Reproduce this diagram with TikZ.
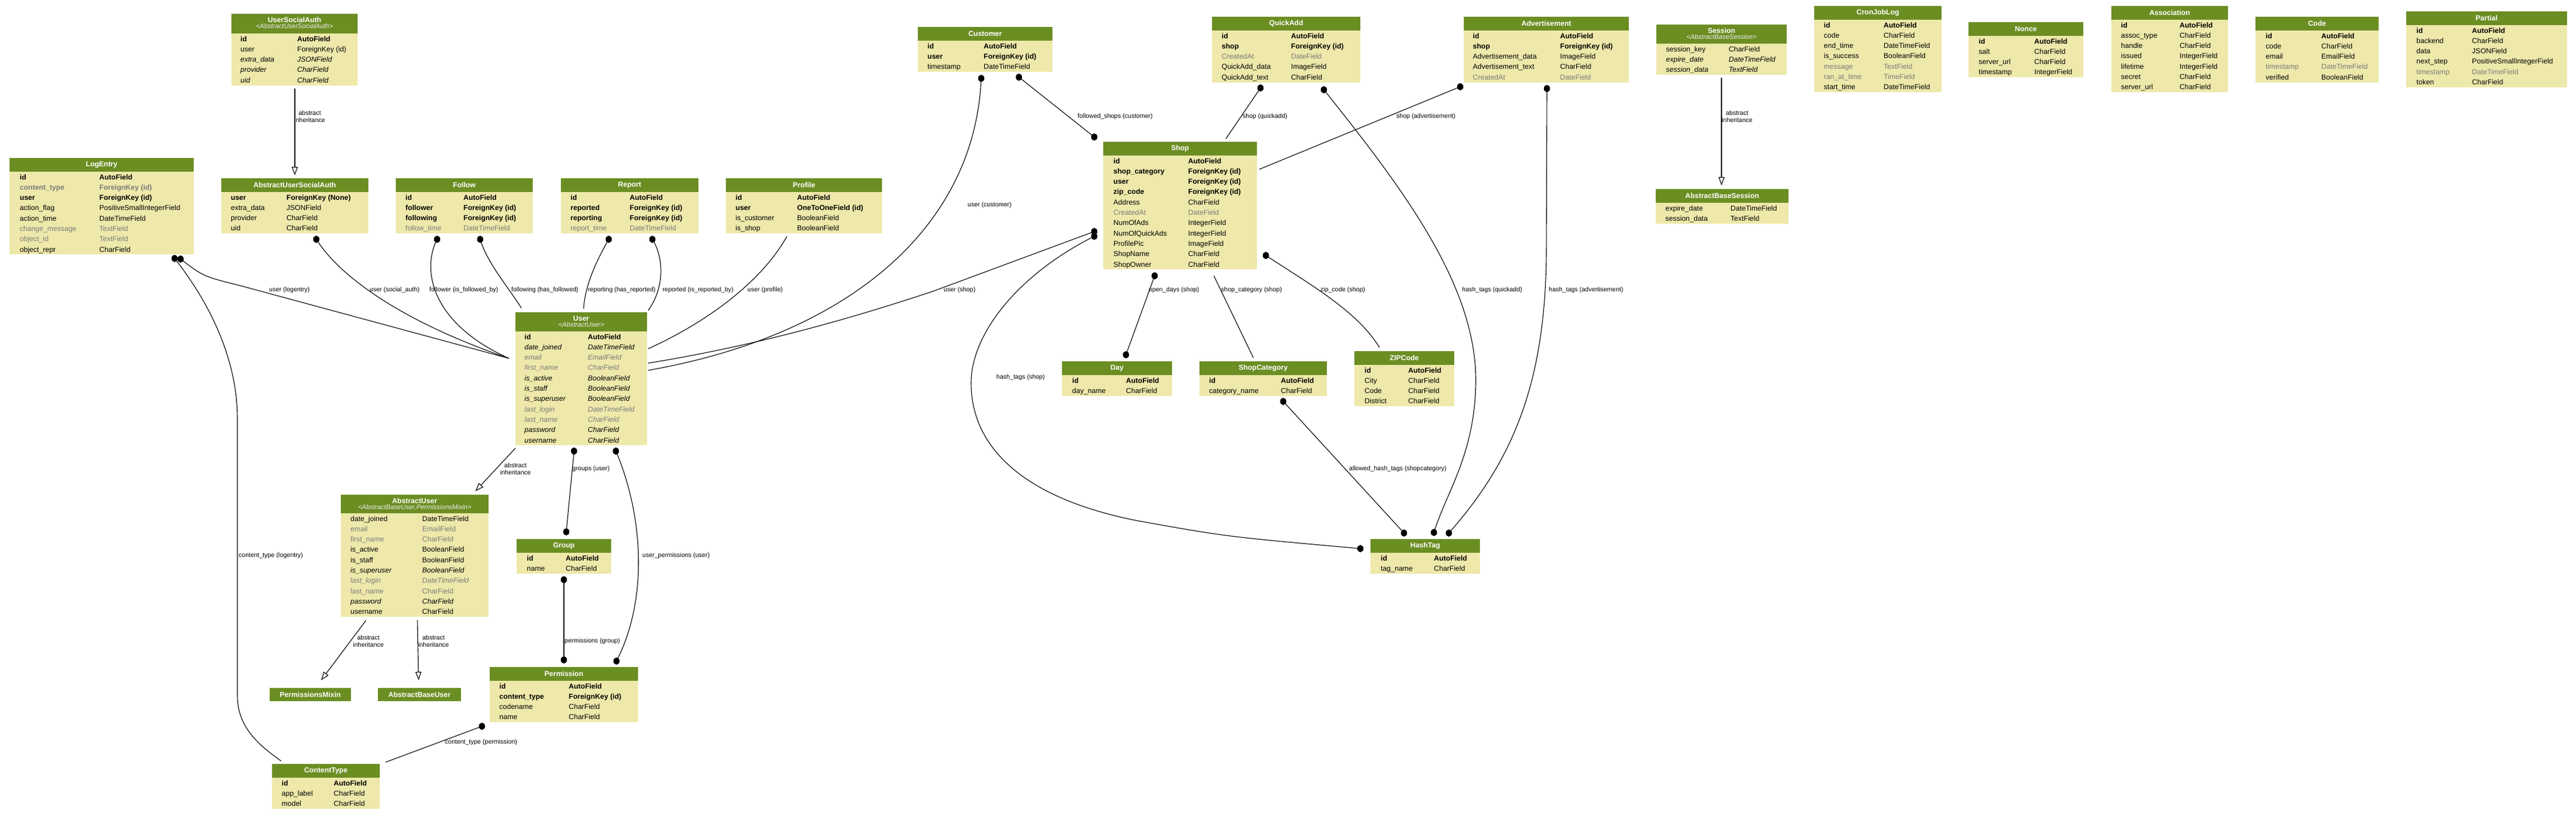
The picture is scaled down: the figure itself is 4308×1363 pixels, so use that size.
\documentclass[tikz,border=0pt]{standalone}
\usepackage{fontspec}
\setmainfont{Liberation Sans}
\usetikzlibrary{arrows.meta,calc}
\definecolor{hdr}{HTML}{6B8E23}
\definecolor{bdy}{HTML}{EEE8AA}
\definecolor{gtx}{HTML}{7B7B7B}
\newcommand\dbtable[8]{%
  \pgfmathsetmacro\tbh{#5+#6*17.3}%
  \node[tbody,minimum width=#4pt,minimum height=\tbh pt,anchor=north west] (#1) at (#2,#3) {};%
  \node[thead,minimum width=#4pt,minimum height=#5pt,anchor=north west] (#1-h) at (#2,#3) {};%
  \if\relax\detokenize{#8}\relax
    \node[ttitle] (#1-t) at (#1-h.center) {#7};%
  \else
    \node[ttitle] (#1-t) at ($(#1-h.north)+(0,10)$) {#7};%
    \node[tsub] (#1-s) at ($(#1-h.north)+(0,21)$) {<#8>};%
  \fi
}
\newcommand\dbrows[4]{%
  \foreach \st/\fn/\ft [count=\ri] in {#4}{%
    \node[rowtxt,\st] at ($(#1-h.south west)+(#2,\ri*17.3-4.3)$) {\fn};%
    \node[rowtxt,\st] at ($(#1-h.south west)+(#3,\ri*17.3-4.3)$) {\ft};%
  }%
}
\newcommand\edot[1]{\fill (#1) ellipse [x radius=5.2pt, y radius=6pt];}
\tikzset{
  tbody/.style={fill=bdy,draw=none,inner sep=0,outer sep=0},
  thead/.style={fill=hdr,draw=none,inner sep=0,outer sep=0},
  ttitle/.style={text=white,font=\fontsize{12}{12}\selectfont\bfseries,inner sep=0},
  tsub/.style={text=white!88!gray,font=\fontsize{11}{11}\selectfont\itshape,inner sep=0},
  rowtxt/.style={anchor=base west,inner sep=0,font=\fontsize{12}{12}\selectfont},
  rn/.style={},
  rb/.style={font=\fontsize{12}{12}\selectfont\bfseries},
  ri/.style={font=\fontsize{12}{12}\selectfont\itshape},
  rg/.style={text=gtx},
  rgi/.style={text=gtx,font=\fontsize{12}{12}\selectfont\itshape},
  rgb/.style={text=gtx,font=\fontsize{12}{12}\selectfont\bfseries},
  conn/.style={draw=black,line width=1.1pt},
  inh/.style={conn,-{Triangle[open,length=14pt,width=10pt]}},
  lbl/.style={font=\fontsize{10.5}{12}\selectfont,inner sep=0,anchor=west},
  ilbl/.style={font=\fontsize{10.5}{12}\selectfont,inner sep=0,align=center}
}
\begin{document}
\begin{tikzpicture}[x=1pt,y=-1pt]
\fill[white] (0,0) rectangle (4308,1363);
\useasboundingbox (0,0) rectangle (4308,1363);

% ---------- tables ----------
\dbtable{UserSocialAuth}{387}{23}{211}{33}{5}{UserSocialAuth}{AbstractUserSocialAuth}
\dbrows{UserSocialAuth}{15}{110}{rb/id/AutoField, rn/user/ForeignKey (id), ri/extra\_data/JSONField, ri/provider/CharField, ri/uid/CharField}

\dbtable{LogEntry}{16}{264}{308}{23}{8}{LogEntry}{}
\dbrows{LogEntry}{17}{150}{rb/id/AutoField, rgb/content\_type/ForeignKey (id), rb/user/ForeignKey (id), rn/action\_flag/PositiveSmallIntegerField, rn/action\_time/DateTimeField, rg/change\_message/TextField, rg/object\_id/TextField, rn/object\_repr/CharField}

\dbtable{AbstractUserSocialAuth}{370}{298}{246}{23}{4}{AbstractUserSocialAuth}{}
\dbrows{AbstractUserSocialAuth}{16}{109}{rb/user/ForeignKey (None), rn/extra\_data/JSONField, rn/provider/CharField, rn/uid/CharField}

\dbtable{Follow}{662}{298}{229}{23}{4}{Follow}{}
\dbrows{Follow}{16}{113}{rb/id/AutoField, rb/follower/ForeignKey (id), rb/following/ForeignKey (id), rg/follow\_time/DateTimeField}

\dbtable{Report}{938}{298}{230}{23}{4}{Report}{}
\dbrows{Report}{16}{115}{rb/id/AutoField, rb/reported/ForeignKey (id), rb/reporting/ForeignKey (id), rg/report\_time/DateTimeField}

\dbtable{Profile}{1214}{298}{261}{23}{4}{Profile}{}
\dbrows{Profile}{16}{119}{rb/id/AutoField, rb/user/OneToOneField (id), rn/is\_customer/BooleanField, rn/is\_shop/BooleanField}

\dbtable{Customer}{1535}{45}{225}{23}{3}{Customer}{}
\dbrows{Customer}{16}{110}{rb/id/AutoField, rb/user/ForeignKey (id), rn/timestamp/DateTimeField}

\dbtable{QuickAdd}{2027}{28}{248}{23}{5}{QuickAdd}{}
\dbrows{QuickAdd}{16}{132}{rb/id/AutoField, rb/shop/ForeignKey (id), rg/CreatedAt/DateField, rn/QuickAdd\_data/ImageField, rn/QuickAdd\_text/CharField}

\dbtable{Advertisement}{2448}{28}{276}{23}{5}{Advertisement}{}
\dbrows{Advertisement}{15}{161}{rb/id/AutoField, rb/shop/ForeignKey (id), rn/Advertisement\_data/ImageField, rn/Advertisement\_text/CharField, rg/CreatedAt/DateField}

\dbtable{Session}{2770}{41}{218}{32}{3}{Session}{AbstractBaseSession}
\dbrows{Session}{16}{121}{rn/session\_key/CharField, ri/expire\_date/DateTimeField, ri/session\_data/TextField}

\dbtable{AbstractBaseSession}{2769}{316}{222}{23}{2}{AbstractBaseSession}{}
\dbrows{AbstractBaseSession}{16}{125}{rn/expire\_date/DateTimeField, rn/session\_data/TextField}

\dbtable{CronJobLog}{3034}{10}{213}{23}{7}{CronJobLog}{}
\dbrows{CronJobLog}{16}{116}{rb/id/AutoField, rn/code/CharField, rn/end\_time/DateTimeField, rn/is\_success/BooleanField, rg/message/TextField, rg/ran\_at\_time/TimeField, rn/start\_time/DateTimeField}

\dbtable{Nonce}{3292}{37}{192}{23}{4}{Nonce}{}
\dbrows{Nonce}{17}{110}{rb/id/AutoField, rn/salt/CharField, rn/server\_url/CharField, rn/timestamp/IntegerField}

\dbtable{Association}{3531}{10}{195}{23}{7}{Association}{}
\dbrows{Association}{16}{114}{rb/id/AutoField, rn/assoc\_type/CharField, rn/handle/CharField, rn/issued/IntegerField, rn/lifetime/IntegerField, rn/secret/CharField, rn/server\_url/CharField}

\dbtable{Code}{3772}{28}{206}{23}{5}{Code}{}
\dbrows{Code}{17}{110}{rb/id/AutoField, rn/code/CharField, rn/email/EmailField, rg/timestamp/DateTimeField, rn/verified/BooleanField}

\dbtable{Partial}{4024}{19}{269}{23}{6}{Partial}{}
\dbrows{Partial}{17}{110}{rb/id/AutoField, rn/backend/CharField, rn/data/JSONField, rn/next\_step/PositiveSmallIntegerField, rg/timestamp/DateTimeField, rn/token/CharField}

\dbtable{Shop}{1845}{237}{257}{23}{11}{Shop}{}
\dbrows{Shop}{17}{142}{rb/id/AutoField, rb/shop\_category/ForeignKey (id), rb/user/ForeignKey (id), rb/zip\_code/ForeignKey (id), rn/Address/CharField, rg/CreatedAt/DateField, rn/NumOfAds/IntegerField, rn/NumOfQuickAds/IntegerField, rn/ProfilePic/ImageField, rn/ShopName/CharField, rn/ShopOwner/CharField}

\dbtable{User}{862}{522}{220}{32}{11}{User}{AbstractUser}
\dbrows{User}{15}{121}{rb/id/AutoField, ri/date\_joined/DateTimeField, rgi/email/EmailField, rgi/first\_name/CharField, ri/is\_active/BooleanField, ri/is\_staff/BooleanField, ri/is\_superuser/BooleanField, rgi/last\_login/DateTimeField, rgi/last\_name/CharField, ri/password/CharField, ri/username/CharField}

\dbtable{AbstractUser}{570}{827}{247}{31}{10}{AbstractUser}{AbstractBaseUser,PermissionsMixin}
\dbrows{AbstractUser}{16}{136}{rn/date\_joined/DateTimeField, rg/email/EmailField, rg/first\_name/CharField, rn/is\_active/BooleanField, rn/is\_staff/BooleanField, ri/is\_superuser/BooleanField, rgi/last\_login/DateTimeField, rg/last\_name/CharField, ri/password/CharField, rn/username/CharField}

\dbtable{Group}{864}{901}{158}{23}{2}{Group}{}
\dbrows{Group}{17}{82}{rb/id/AutoField, rn/name/CharField}

\dbtable{Permission}{819}{1115}{248}{23}{4}{Permission}{}
\dbrows{Permission}{16}{132}{rb/id/AutoField, rb/content\_type/ForeignKey (id), rn/codename/CharField, rn/name/CharField}

\dbtable{ContentType}{455}{1277}{180}{23}{3}{ContentType}{}
\dbrows{ContentType}{16}{103}{rb/id/AutoField, rn/app\_label/CharField, rn/model/CharField}

\dbtable{PermissionsMixin}{451}{1150}{136}{22}{0}{PermissionsMixin}{}
\dbtable{AbstractBaseUser}{632}{1150}{139}{22}{0}{AbstractBaseUser}{}

\dbtable{Day}{1776}{604}{184}{23}{2}{Day}{}
\dbrows{Day}{17}{107}{rb/id/AutoField, rn/day\_name/CharField}

\dbtable{ShopCategory}{2006}{604}{213}{23}{2}{ShopCategory}{}
\dbrows{ShopCategory}{16}{136}{rb/id/AutoField, rn/category\_name/CharField}

\dbtable{ZIPCode}{2265}{587}{167}{23}{4}{ZIPCode}{}
\dbrows{ZIPCode}{17}{90}{rb/id/AutoField, rn/City/CharField, rn/Code/CharField, rn/District/CharField}

\dbtable{HashTag}{2292}{901}{183}{23}{2}{HashTag}{}
\dbrows{HashTag}{17}{106}{rb/id/AutoField, rn/tag\_name/CharField}

% ---------- connector end points ----------
\coordinate (le-ct) at ($(LogEntry.north west)+(276,168)$);
\coordinate (le-u) at ($(LogEntry.north west)+(286,169)$);
\coordinate (ausa-u) at ($(AbstractUserSocialAuth.north west)+(159,102)$);
\coordinate (fo-a) at ($(Follow.north west)+(69,102)$);
\coordinate (fo-b) at ($(Follow.north west)+(141,102)$);
\coordinate (re-a) at ($(Report.north west)+(80,102)$);
\coordinate (re-b) at ($(Report.north west)+(153,102)$);
\coordinate (pr-u) at ($(Profile.north west)+(102,97)$);
\coordinate (cu-u) at ($(Customer.north west)+(106,86)$);
\coordinate (cu-s) at ($(Customer.north west)+(169,84)$);
\coordinate (qa-s) at ($(QuickAdd.north west)+(81,119)$);
\coordinate (qa-h) at ($(QuickAdd.north west)+(187,122)$);
\coordinate (ad-s) at ($(Advertisement.north west)+(-6,117)$);
\coordinate (ad-h) at ($(Advertisement.north west)+(139,120)$);
\coordinate (sh-c) at ($(Shop.north west)+(-15,-8)$);
\coordinate (sh-q) at ($(Shop.north west)+(205,-5)$);
\coordinate (sh-a) at ($(Shop.north west)+(261,46)$);
\coordinate (sh-u) at ($(Shop.north west)+(-15,150)$);
\coordinate (sh-h) at ($(Shop.north west)+(-15,158)$);
\coordinate (sh-d) at ($(Shop.north west)+(86,224)$);
\coordinate (sh-sc) at ($(Shop.north west)+(185,224)$);
\coordinate (sh-z) at ($(Shop.north west)+(272,190)$);
\coordinate (us-l) at ($(User.north west)+(-11,77)$);
\coordinate (us-t1) at ($(User.north west)+(10,-7)$);
\coordinate (us-t2) at ($(User.north west)+(114,-6)$);
\coordinate (us-t3) at ($(User.north west)+(222,-3)$);
\coordinate (us-pr) at ($(User.north west)+(222,61)$);
\coordinate (us-sh) at ($(User.north west)+(222,85)$);
\coordinate (us-cu) at ($(User.north west)+(222,97)$);
\coordinate (us-inh) at ($(User.north west)+(0,227)$);
\coordinate (us-g) at ($(User.north west)+(98,232)$);
\coordinate (us-p) at ($(User.north west)+(168,232)$);
\coordinate (au-t) at ($(AbstractUser.north west)+(225,-6)$);
\coordinate (au-b1) at ($(AbstractUser.north west)+(42,210)$);
\coordinate (au-b2) at ($(AbstractUser.north west)+(128,210)$);
\coordinate (gr-t) at ($(Group.north west)+(83,-12)$);
\coordinate (gr-b) at ($(Group.north west)+(79,68)$);
\coordinate (pe-g) at ($(Permission.north west)+(124,-12)$);
\coordinate (pe-u) at ($(Permission.north west)+(212,-10)$);
\coordinate (pe-c) at ($(Permission.north west)+(-13,99)$);
\coordinate (ct-l) at ($(ContentType.north west)+(15,-5)$);
\coordinate (ct-p) at ($(ContentType.north west)+(190,-3)$);
\coordinate (pm-t) at ($(PermissionsMixin.north west)+(86,-13)$);
\coordinate (abu-t) at ($(AbstractBaseUser.north west)+(68,-13)$);
\coordinate (usa-b) at ($(UserSocialAuth.north west)+(106,125)$);
\coordinate (ausa-t) at ($(AbstractUserSocialAuth.north west)+(123,-5)$);
\coordinate (se-b) at ($(Session.north west)+(109,89)$);
\coordinate (abs-t) at ($(AbstractBaseSession.north west)+(110,-6)$);
\coordinate (day-t) at ($(Day.north west)+(107,-11)$);
\coordinate (sc-t) at ($(ShopCategory.north west)+(90,-6)$);
\coordinate (sc-b) at ($(ShopCategory.north west)+(140,67)$);
\coordinate (zc-t) at ($(ZIPCode.north west)+(42,-6)$);
\coordinate (ht-l) at ($(HashTag.north west)+(-17,16)$);
\coordinate (ht-a) at ($(HashTag.north west)+(56,-10)$);
\coordinate (ht-q) at ($(HashTag.north west)+(106,-11)$);
\coordinate (ht-ad) at ($(HashTag.north west)+(131,-10)$);

% ---------- connectors ----------
\draw[conn] (le-u) .. controls (340,462) .. (400,477) -- (us-l);
\draw[conn] (le-ct) .. controls (330,480) and (397,580) .. (397,700) -- (397,1163) .. controls (397,1220) and (440,1250) .. (ct-l);
\draw[conn] (ausa-u) .. controls (560,450) and (650,530) .. (us-l);
\draw[conn] (fo-a) .. controls (705,450) and (720,540) .. (us-l);
\draw[conn] (fo-b) .. controls (815,440) and (850,480) .. (us-t1);
\draw[conn] (re-a) .. controls (995,440) and (978,480) .. (us-t2);
\draw[conn] (re-b) .. controls (1110,430) and (1112,480) .. (us-t3);
\draw[conn] (pr-u) .. controls (1280,460) and (1200,530) .. (us-pr);
\draw[conn] (cu-u) .. controls (1630,380) and (1420,560) .. (us-cu);
\draw[conn] (sh-u) -- (1560,487) .. controls (1400,540) and (1250,580) .. (us-sh);
\draw[conn] (sh-h) .. controls (1700,460) and (1624,560) .. (1624,640) .. controls (1624,740) and (1700,830) .. (1900,870) .. controls (2050,897) .. (ht-l);
\draw[conn] (cu-s) -- (sh-c);
\draw[conn] (qa-s) -- (sh-q);
\draw[conn] (ad-s) -- (sh-a);
\draw[conn] (qa-h) .. controls (2350,320) and (2470,480) .. (2468,640) .. controls (2466,760) and (2420,820) .. (ht-q);
\draw[conn] (ad-h) -- (2586,420) .. controls (2585,640) and (2530,770) .. (ht-ad);
\draw[conn] (sh-d) -- (day-t);
\draw[conn] (sh-sc) -- (sc-t);
\draw[conn] (sh-z) .. controls (2190,475) and (2270,520) .. (zc-t);
\draw[conn] (sc-b) -- (ht-a);
\draw[conn] (us-g) -- (gr-t);
\draw[conn] (us-p) .. controls (1075,860) and (1085,1000) .. (pe-u);
\draw[conn] (gr-b) -- (pe-g);
\draw[conn] (pe-c) -- (ct-p);
\draw[inh] (usa-b) -- (ausa-t);
\draw[inh] (se-b) -- (abs-t);
\draw[inh] (us-inh) -- (au-t);
\draw[inh] (au-b1) -- (pm-t);
\draw[inh] (au-b2) -- (abu-t);

% ---------- dots ----------
\foreach \c in {le-ct,le-u,ausa-u,fo-a,fo-b,re-a,re-b,cu-u,cu-s,qa-s,qa-h,ad-s,ad-h,sh-c,sh-u,sh-h,sh-d,sh-z,us-g,us-p,gr-t,gr-b,pe-g,pe-u,pe-c,day-t,sc-b,ht-l,ht-a,ht-q,ht-ad}{\edot{\c}}

% ---------- labels ----------
\node[lbl] (l1) at (450,485) {user (logentry)};
\node[lbl] (l2) at (618,485) {user (social\_auth)};
\node[lbl] (l3) at (718,485) {follower (is\_followed\_by)};
\node[lbl] (l4) at (855,485) {following (has\_followed)};
\node[lbl] (l5) at (983,485) {reporting (has\_reported)};
\node[lbl] (l6) at (1108,485) {reported (is\_reported\_by)};
\node[lbl] (l7) at (1250,485) {user (profile)};
\node[lbl] (l8) at (1618,343) {user (customer)};
\node[lbl] (l9) at (1578,485) {user (shop)};
\node[lbl] (l10) at (1666,631) {hash\_tags (shop)};
\node[lbl] (l11) at (1802,195) {followed\_shops (customer)};
\node[lbl] (l12) at (2078,195) {shop (quickadd)};
\node[lbl] (l13) at (2335,195) {shop (advertisement)};
\node[lbl] (l14) at (2445,485) {hash\_tags (quickadd)};
\node[lbl] (l15) at (2590,485) {hash\_tags (advertisement)};
\node[lbl] (l16) at (1921,485) {open\_days (shop)};
\node[lbl] (l17) at (2042,485) {shop\_category (shop)};
\node[lbl] (l18) at (2208,485) {zip\_code (shop)};
\node[lbl] (l19) at (2256,784) {allowed\_hash\_tags (shopcategory)};
\node[lbl] (l20) at (957,784) {groups (user)};
\node[lbl] (l21) at (1074,929) {user\_permissions (user)};
\node[lbl] (l22) at (944,1072) {permissions (group)};
\node[lbl] (l23) at (744,1241) {content\_type (permission)};
\node[lbl] (l24) at (399,929) {content\_type (logentry)};
\node[ilbl] (i1) at (518,195) {abstract\\inheritance};
\node[ilbl] (i2) at (2905,195) {abstract\\inheritance};
\node[ilbl] (i3) at (862,784) {abstract\\inheritance};
\node[ilbl] (i4) at (616,1072) {abstract\\inheritance};
\node[ilbl] (i5) at (725,1072) {abstract\\inheritance};
\end{tikzpicture}
\end{document}
